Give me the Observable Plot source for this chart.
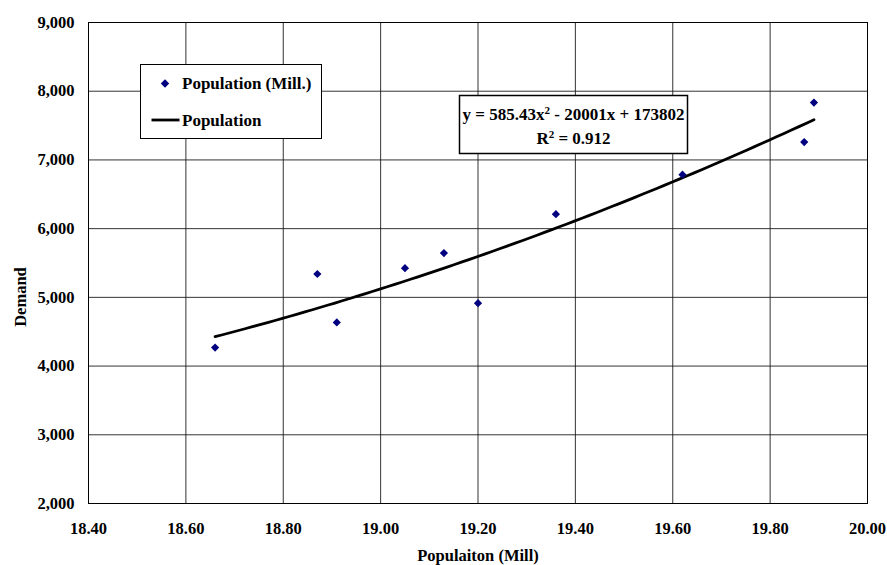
<!DOCTYPE html>
<html><head><meta charset="utf-8">
<script src="https://cdn.jsdelivr.net/npm/d3@7"></script>
<script src="https://cdn.jsdelivr.net/npm/@observablehq/plot@0.6"></script>
<style>body{margin:0;background:#fff}</style>
</head><body><div id="chart"></div>
<script>
// ---- data ----
const popMill = [18.66, 18.87, 18.91, 19.05, 19.13, 19.20, 19.36, 19.62, 19.87, 19.89];
const demand  = [4270, 5340, 4635, 5425, 5645, 4915, 6210, 6785, 7260, 7835];
const trendCoef = [585.43, -20001, 173802];   // a, b, c  (y = a x^2 + b x + c)
const trendRange = [18.66, 19.89];
const rSquared = [0.912];
const xTicks = [18.4, 18.6, 18.8, 19.0, 19.2, 19.4, 19.6, 19.8, 20.0];
const yTicks = [2000, 3000, 4000, 5000, 6000, 7000, 8000, 9000];
const legendLabels = ["Population (Mill.)", "Population"];
const xTitle = "Populaiton (Mill)";
const yTitle = "Demand";

const points = popMill.map((x, i) => ({x, y: demand[i]}));
const nSeg = 80;
const curve = d3.range(nSeg + 1).map(i => {
  const x = trendRange[0] + (trendRange[1] - trendRange[0]) * i / nSeg;
  return {x, y: trendCoef[0] * x * x + trendCoef[1] * x + trendCoef[2]};
});

const font = "'Liberation Serif', 'Times New Roman', serif";
const fs = 16.5;

const chart = Plot.plot({
  width: 887, height: 565,
  marginLeft: 88, marginRight: 20, marginTop: 22, marginBottom: 62,
  style: {fontFamily: font, fontWeight: "bold", fontSize: fs + "px", color: "#000", background: "#fff"},
  x: {domain: [18.4, 20.0]},
  y: {domain: [2000, 9000]},
  marks: [
    Plot.gridX(xTicks, {stroke: "#111", strokeOpacity: 0.85}),
    Plot.gridY(yTicks, {stroke: "#111", strokeOpacity: 0.85}),
    Plot.frame({stroke: "#000"}),
    Plot.axisX(xTicks, {tickSize: 0, tickPadding: 19, tickFormat: d3.format(".2f"), fontSize: fs, fontWeight: "bold", label: null}),
    Plot.axisY(yTicks, {tickSize: 0, tickPadding: 14, tickFormat: d3.format(","), fontSize: fs, fontWeight: "bold", label: null}),
    Plot.line(curve, {x: "x", y: "y", stroke: "#000", strokeWidth: 2.8}),
    Plot.dot(points, {x: "x", y: "y", symbol: "diamond2", r: 3.7, fill: "#000080", stroke: "none"}),
    Plot.text([xTitle], {text: d => d, frameAnchor: "bottom", dy: 52, textAnchor: "middle", lineAnchor: "middle", fontSize: fs, fontWeight: "bold"}),
    Plot.text([yTitle], {text: d => d, frameAnchor: "left", dx: -68, dy: 34, rotate: -90, textAnchor: "middle", lineAnchor: "middle", fontSize: fs, fontWeight: "bold"})
  ]
});
document.getElementById("chart").appendChild(chart);

// ---- legend & equation annotations ----
const svg = d3.select(chart);
const lg = svg.append("g").attr("font-family", font).attr("font-weight", "bold").attr("font-size", 17)
  .attr("text-anchor", "start");
lg.append("rect").attr("x", 140.5).attr("y", 64.5).attr("width", 181).attr("height", 74)
  .attr("fill", "#fff").attr("stroke", "#000").attr("stroke-width", 1);
lg.append("path").attr("d", "M0,-4.2L4.2,0L0,4.2L-4.2,0Z").attr("transform", "translate(165,83.5)").attr("fill", "#000080");
lg.append("text").attr("text-anchor", "start").attr("x", 182).attr("y", 89).text(legendLabels[0]);
lg.append("line").attr("x1", 151.5).attr("x2", 179.5).attr("y1", 120).attr("y2", 120)
  .attr("stroke", "#000").attr("stroke-width", 2.8);
lg.append("text").attr("text-anchor", "start").attr("x", 182).attr("y", 126).text(legendLabels[1]);

const eq = svg.append("g").attr("font-family", font).attr("font-weight", "bold").attr("font-size", 17);
eq.append("rect").attr("x", 459.5).attr("y", 95.5).attr("width", 228).attr("height", 58)
  .attr("fill", "#fff").attr("stroke", "#000").attr("stroke-width", 1.5);
const t1 = eq.append("text").attr("x", 573.5).attr("y", 120).attr("text-anchor", "middle");
t1.append("tspan").text(`y = ${trendCoef[0]}x`);
t1.append("tspan").attr("dy", -6).attr("font-size", 11).text("2");
t1.append("tspan").attr("dy", 6).text(` - ${-trendCoef[1]}x + ${trendCoef[2]}`);
const t2 = eq.append("text").attr("x", 573.5).attr("y", 144).attr("text-anchor", "middle");
t2.append("tspan").text("R");
t2.append("tspan").attr("dy", -6).attr("font-size", 11).text("2");
t2.append("tspan").attr("dy", 6).text(` = ${rSquared[0]}`);
</script>
</body></html>
